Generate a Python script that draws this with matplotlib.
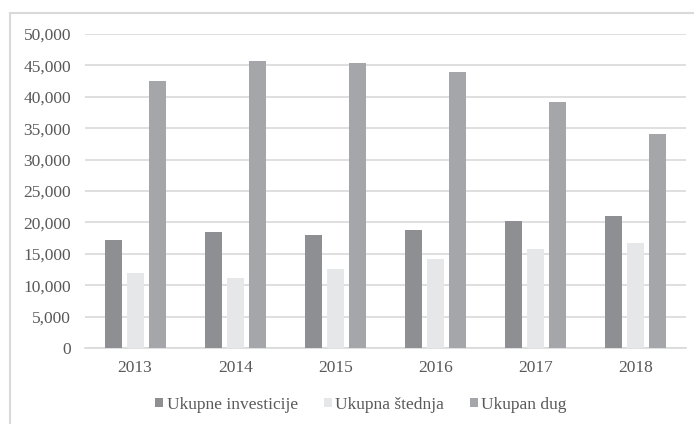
import matplotlib
matplotlib.use("Agg")
import matplotlib.pyplot as plt
from matplotlib.patches import Rectangle
from matplotlib.ticker import FuncFormatter, MultipleLocator
import numpy as np

years = ["2013", "2014", "2015", "2016", "2017", "2018"]
investicije = [17200, 18400, 18000, 18800, 20300, 21000]
stednja = [11900, 11200, 12600, 14200, 15800, 16700]
dug = [42500, 45700, 45400, 44000, 39200, 34100]
series_names = ["Ukupne investicije", "Ukupna štednja", "Ukupan dug"]
colors = ["#8e8f93", "#e6e7e8", "#a5a6a9"]

plt.rcParams['font.family'] = ['Liberation Serif', 'DejaVu Serif']
W, H = 694, 424
fig = plt.figure(figsize=(W / 100, H / 100), dpi=100)

# outer border
fig.patches.append(Rectangle((10 / W, -0.05), 1.2, 1 - 13 / H + 0.05,
                             transform=fig.transFigure, fill=False,
                             edgecolor="#d9d9d9", linewidth=1.5))

ax = fig.add_axes([85 / W, 1 - 348 / H, (686 - 85) / W, (348 - 34) / H])
x = np.arange(len(years))
width = 0.17
step = 0.22
for i, (vals, name, c) in enumerate(zip([investicije, stednja, dug], series_names, colors)):
    ax.bar(x + (i - 1) * step, vals, width=width, color=c, label=name, zorder=3)

ax.set_xlim(-0.5, len(years) - 0.5)
ax.set_ylim(0, 50000)
ax.yaxis.set_major_locator(MultipleLocator(5000))
ax.yaxis.set_major_formatter(FuncFormatter(lambda v, p: f"{int(v):,}"))
ax.set_xticks(x)
ax.set_xticklabels(years)
ax.grid(axis='y', color="#d9d9d9", linewidth=1.2, zorder=0)
for s in ["top", "right", "left"]:
    ax.spines[s].set_visible(False)
ax.spines["bottom"].set_color("#d9d9d9")
ax.spines["bottom"].set_linewidth(1.2)
ax.tick_params(axis='both', length=0, labelsize=12.5, labelcolor="#595959")
ax.tick_params(axis='x', pad=9)
ax.tick_params(axis='y', pad=10)

leg = fig.legend(loc="center", bbox_to_anchor=(361 / W, 1 - 405 / H), ncol=3,
                 frameon=False, fontsize=12.5, handlelength=0.45, handleheight=0.45,
                 handletextpad=0.2, columnspacing=1.5)
for t in leg.get_texts():
    t.set_color("#595959")

fig.savefig("out.png", dpi=100)
